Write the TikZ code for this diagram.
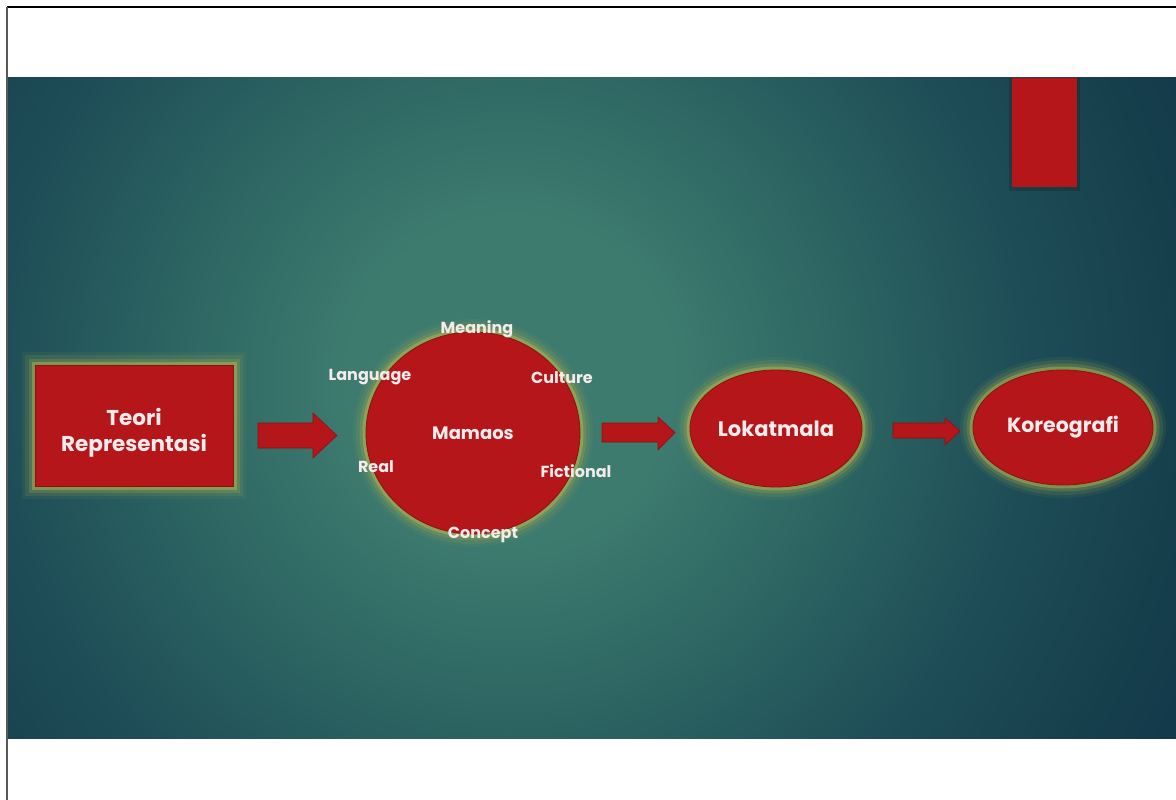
\documentclass[tikz,border=0pt]{standalone}
\usepackage{fontspec}
\setmainfont{Poppins}
\usetikzlibrary{shapes.geometric}
\definecolor{bgLight}{HTML}{3E7B6F}
\definecolor{bgMid}{HTML}{2B6361}
\definecolor{bgDark}{HTML}{1E4D57}
\definecolor{bgDeep}{HTML}{163F4C}
\definecolor{bgEdge}{HTML}{11364A}
\definecolor{redfill}{HTML}{B4161A}
\definecolor{redline}{HTML}{8E1014}
\definecolor{glowc}{HTML}{C8C24A}
\definecolor{txt}{HTML}{F4ECEC}
\pgfdeclareradialshading{slidebg}{\pgfpoint{0bp}{0bp}}{%
  color(0bp)=(bgLight); color(5bp)=(bgLight); color(11bp)=(bgMid);
  color(16bp)=(bgDark); color(21bp)=(bgDeep); color(25bp)=(bgEdge); color(50bp)=(bgEdge)}
\tikzset{
  glowing/.style={
    preaction={draw=glowc!60!bgMid, line width=26pt, draw opacity=0.10},
    preaction={draw=glowc!70!bgMid, line width=20pt, draw opacity=0.15},
    preaction={draw=glowc!85!bgMid, line width=13pt, draw opacity=0.22},
    preaction={draw=glowc, line width=7pt, draw opacity=0.40}},
  redshape/.style={fill=redfill, draw=redline, line width=0.8pt, text=txt, font=\bfseries, inner sep=0pt},
  blockarrow/.style={fill=redfill, draw=redline, line width=0.6pt},
  lbl/.style={text=txt, font=\bfseries\fontsize{16}{18}\selectfont, inner sep=0pt},
  frameline/.style={draw=black, line width=1.2pt}
}
\begin{document}
\begin{tikzpicture}[x=1pt,y=-1pt]
\useasboundingbox (0,0) rectangle (1176,800);
\fill[white] (0,0) rectangle (1176,800);
% slide background
\begin{scope}
  \clip (7,78) rectangle (1176,738);
  \fill[bgEdge] (7,78) rectangle (1176,738);
  \shade[shading=slidebg] (510,380) circle (800);
\end{scope}
% frame lines
\draw[frameline] (7,7) -- (1176,7);
\draw[draw=gray!70!black, line width=1.2pt] (7,7) -- (7,800);
% top-right bar
\fill[black, opacity=0.15] (1009,78) rectangle (1080,191);
\node[redshape, draw=none, rectangle, minimum width=65, minimum height=109] (bar) at (1044.5,132.5) {};
% Teori box
\node[redshape, glowing, rectangle, minimum width=198, minimum height=121] (teori) at (134,425.5) {};
\node[text=txt, align=center, inner sep=0pt, font=\bfseries\fontsize{21.5}{26}\selectfont] (teoritxt) at (134,433) {Teori\\Representasi};
% Mamaos circle
\node[redshape, glowing, ellipse, minimum width=214, minimum height=202,
      font=\bfseries\fontsize{18}{20}\selectfont] (mamaos) at (473,433) {Mamaos};
% Lokatmala
\node[redshape, glowing, ellipse, minimum width=172, minimum height=117,
      font=\bfseries\fontsize{21}{24}\selectfont] (lok) at (776,428.5) {Lokatmala};
% Koreografi
\node[redshape, glowing, ellipse, minimum width=180, minimum height=115,
      font=\bfseries\fontsize{20.5}{24}\selectfont] (kor) at (1063,427.5) {Koreografi};
% labels around circle
\node[lbl] (meaning) at (477,329) {Meaning};
\node[lbl] (language) at (370,377) {Language};
\node[lbl] (culture) at (562,378) {Culture};
\node[lbl] (real) at (376,467) {Real};
\node[lbl] (fictional) at (576,471) {Fictional};
\node[lbl] (concept) at (483,535) {Concept};
% block arrows
\draw[blockarrow] (258,423) -- (313,423) -- (313,413) -- (337,435.5) -- (313,458) -- (313,448) -- (258,448) -- cycle;
\draw[blockarrow] (602,423) -- (658,423) -- (658,417) -- (675,432.5) -- (658,450) -- (658,442) -- (602,442) -- cycle;
\draw[blockarrow] (893,423) -- (945,423) -- (945,418) -- (960,431) -- (945,445) -- (945,438) -- (893,438) -- cycle;
\end{tikzpicture}
\end{document}
